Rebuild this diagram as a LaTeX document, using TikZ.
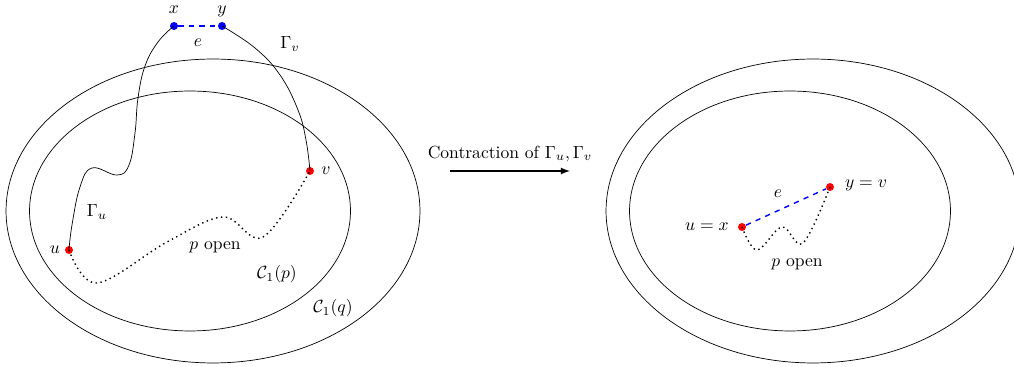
\documentclass[tikz,border=0pt]{standalone}
\usetikzlibrary{arrows}
\begin{document}
\begin{tikzpicture}
  [x=0.02cm,y=-0.02cm,
   dot/.style={circle,inner sep=0pt,minimum size=0.16cm},
   every node/.style={inner sep=1pt}]
  \useasboundingbox (0,0) rectangle (1014,367);
  % left picture
  \draw (213,211) ellipse [x radius=4.14cm,y radius=3.04cm];
  \draw (190,211) ellipse [x radius=3.21cm,y radius=2.4cm];
  \node[dot,fill=blue] (x) at (174,26) {};
  \node[dot,fill=blue] (y) at (222,26) {};
  \node[dot,fill=red] (u) at (69,250) {};
  \node[dot,fill=red] (v) at (310,171) {};
  \node at (174,10) {$x$};
  \node at (222,11) {$y$};
  \node at (198,43) {$e$};
  \node at (290,44) {$\Gamma_v$};
  \node at (97,212) {$\Gamma_u$};
  \node at (55,250) {$u$};
  \node at (326,171) {$v$};
  \node at (215,247) {$p$ open};
  \node at (277,274) {$\mathcal{C}_1(p)$};
  \node at (333,308) {$\mathcal{C}_1(q)$};
  \draw[blue,dashed,thick] (x) -- (y);
  \draw plot[smooth,tension=0.7] coordinates {(u.center) (72,225) (80,187) (92,168) (117,175) (129,165) (135,133) (138,98) (145,66) (158,42) (x.center)};
  \draw plot[smooth,tension=0.7] coordinates {(y.center) (255,48) (280,75) (298,110) (306,140) (v.center)};
  \draw[dotted,thick] plot[smooth,tension=0.6] coordinates {(u.center) (97,283) (167,242) (223,217) (263,237) (v.center)};

  % arrow
  \node (a1) at (450,171) {};
  \node (a2) at (570,171) {};
  \draw[-latex,thick] (a1.center) -- (a2.center) node[midway,above=4pt] {Contraction of $\Gamma_u,\Gamma_v$};

  % right picture
  \draw (813,211) ellipse [x radius=4.14cm,y radius=3.04cm];
  \draw (790,211) ellipse [x radius=3.21cm,y radius=2.4cm];
  \node[dot,fill=red] (ux) at (742,227) {};
  \node[dot,fill=red] (yv) at (830,187) {};
  \node at (707,227) {$u=x$};
  \node at (866,185) {$y=v$};
  \node at (778,194) {$e$};
  \node at (797,264) {$p$ open};
  \draw[blue,dashed,thick] (ux) -- (yv);
  \draw[dotted,thick] plot[smooth,tension=0.6] coordinates {(ux.center) (757,250) (782,227) (803,243) (yv.center)};

\end{tikzpicture}
\end{document}
